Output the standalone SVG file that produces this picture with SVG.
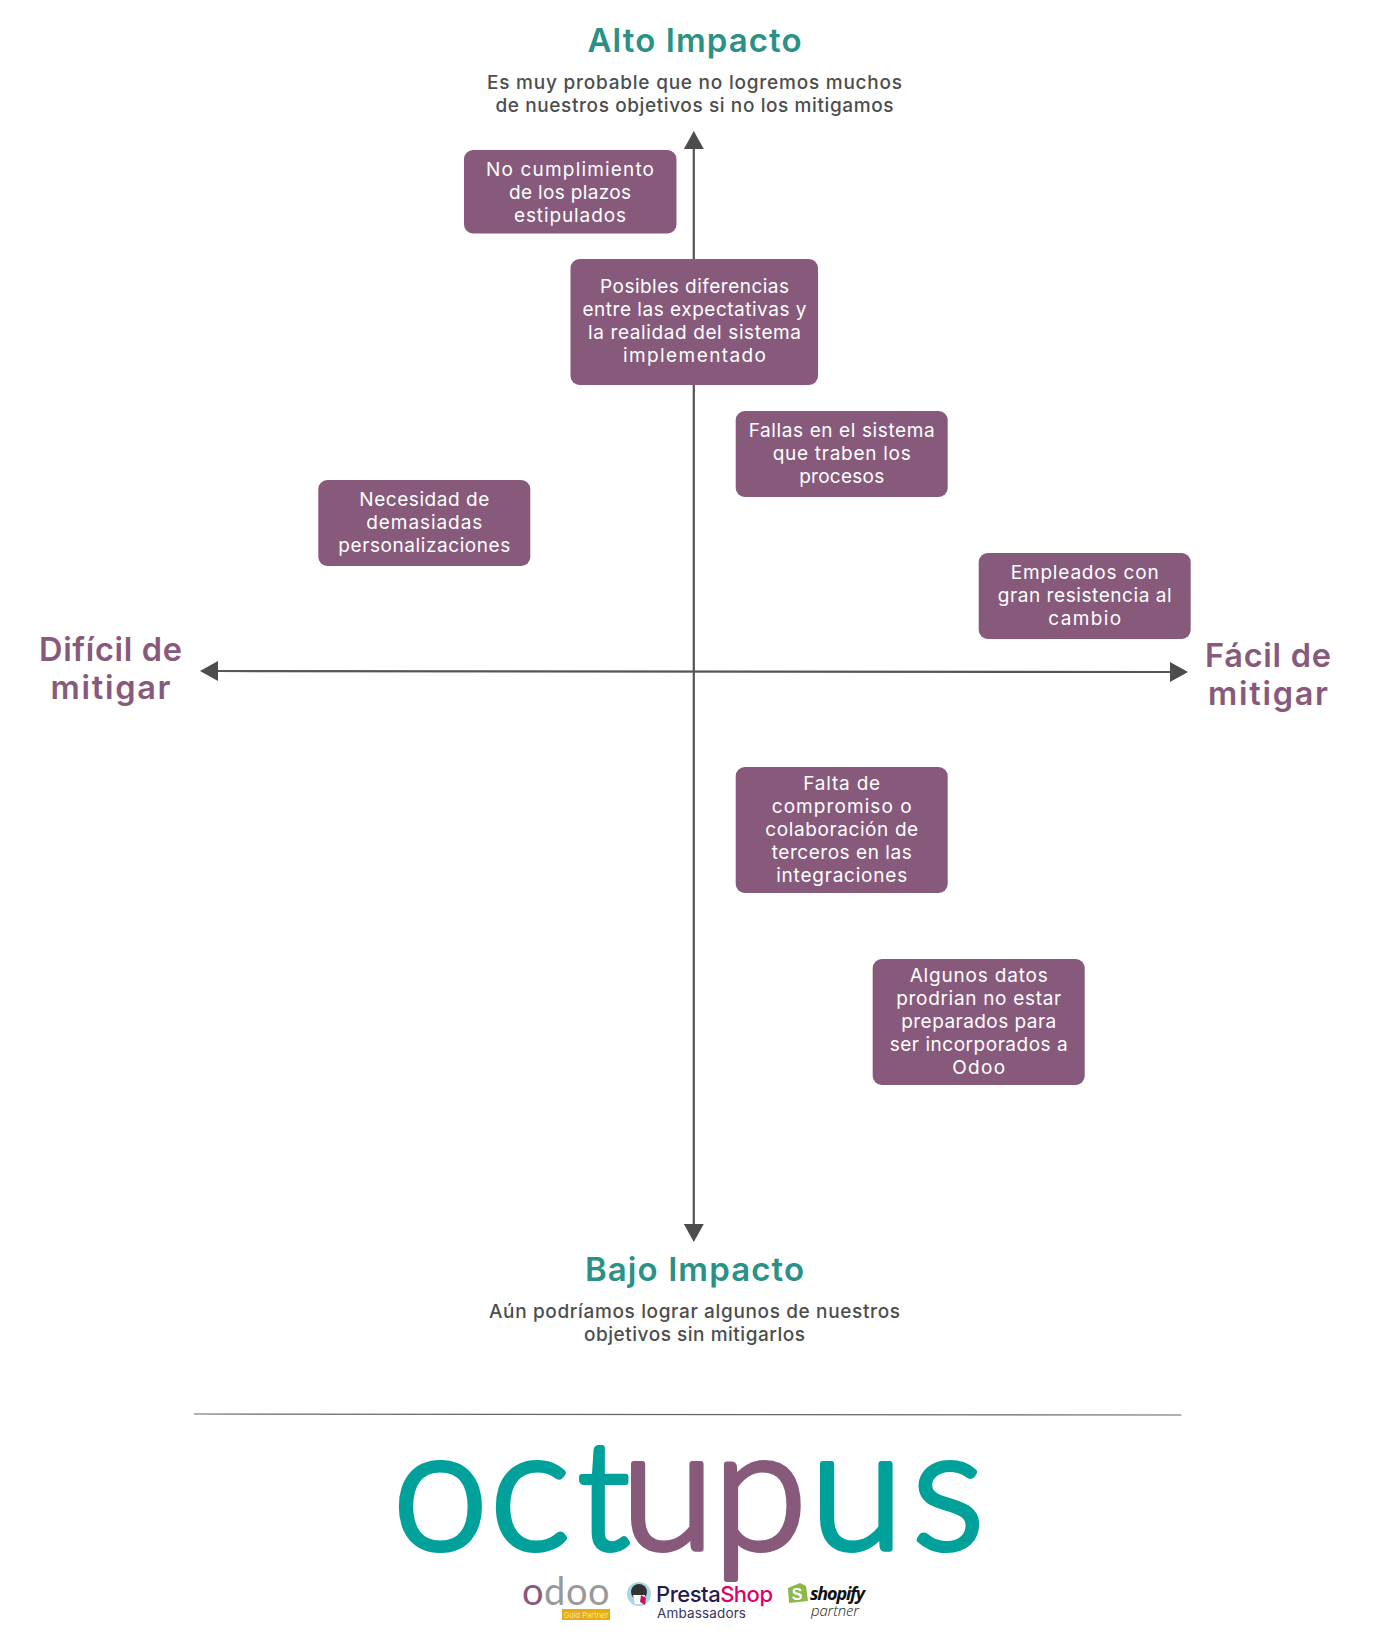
<svg xmlns="http://www.w3.org/2000/svg" width="1374" height="1650" viewBox="0 0 1374 1650">
<style>
text{font-family:"Inter","Open Sans","Liberation Sans",sans-serif;text-anchor:middle}
.box{fill:#875a7b}
.b{font-size:19px;fill:#fff;font-weight:400}
.h{font-size:33px;font-weight:600;fill:#2a9187}
.s{font-size:19px;fill:#4d4d4d;font-weight:500}
.m{font-size:32.5px;font-weight:600;fill:#875a7b}
.ax{stroke:#555;stroke-width:2.2;fill:none;marker-start:url(#tip);marker-end:url(#tip)}
.lg{font-family:Lato,"Open Sans",sans-serif;font-weight:300;text-anchor:start;stroke-linejoin:round;stroke-width:6}
.te{fill:#00a19a;stroke:#00a19a}
.pu{fill:#875a7b;stroke:#875a7b}
</style>
<defs>
<marker id="tip" markerUnits="userSpaceOnUse" markerWidth="18" markerHeight="20" refX="0" refY="10" orient="auto-start-reverse"><path d="M0 0L18 10L0 20Z" fill="#4d4d4d"/></marker>
</defs>
<rect width="1374" height="1650" fill="#fff"/>
<g id="connectors">
<path class="ax" d="M693.8 1224V149"/>
<path class="ax" d="M1170 672L218 671"/>
<path d="M194 1414L1181.5 1415" stroke="#666" stroke-width="1.2" fill="none"/>
</g>
<g id="alto"><text class="h" x="694.5" y="52" textLength="214">Alto Impacto</text>
<text class="s" x="694.5" y="89" textLength="415">Es muy probable que no logremos muchos</text>
<text class="s" x="694.5" y="112" textLength="398">de nuestros objetivos si no los mitigamos</text></g>
<g id="bajo"><text class="h" x="694.5" y="1281" textLength="219">Bajo Impacto</text>
<text class="s" x="694.5" y="1318" textLength="411">Aún podríamos lograr algunos de nuestros</text>
<text class="s" x="694.5" y="1341" textLength="221">objetivos sin mitigarlos</text></g>
<g id="dificil"><text class="m" x="110.5" y="661" textLength="143">Difícil de</text><text class="m" x="110.5" y="699" textLength="120">mitigar</text></g>
<g id="facil"><text class="m" x="1268" y="667" textLength="126">Fácil de</text><text class="m" x="1268" y="705" textLength="120">mitigar</text></g>
<g id="n1"><rect class="box" x="464" y="150" width="212.5" height="83.5" rx="9"/>
<text class="b" x="570" y="176" textLength="168">No cumplimiento</text><text class="b" x="570" y="199" textLength="122">de los plazos</text><text class="b" x="570" y="222" textLength="112">estipulados</text></g>
<g id="n2"><rect class="box" x="570.5" y="259" width="247.5" height="126" rx="9"/>
<text class="b" x="694.5" y="292.5" textLength="189">Posibles diferencias</text><text class="b" x="694.5" y="315.5" textLength="224">entre las expectativas y</text><text class="b" x="694.5" y="338.5" textLength="213">la realidad del sistema</text><text class="b" x="694.5" y="361.5" textLength="143">implementado</text></g>
<g id="n3"><rect class="box" x="735.7" y="411" width="212" height="86" rx="9"/>
<text class="b" x="841.7" y="437" textLength="186">Fallas en el sistema</text><text class="b" x="841.7" y="460" textLength="138">que traben los</text><text class="b" x="841.7" y="483" textLength="85">procesos</text></g>
<g id="n4"><rect class="box" x="318.3" y="480" width="212" height="86" rx="9"/>
<text class="b" x="424.3" y="506" textLength="130">Necesidad de</text><text class="b" x="424.3" y="529" textLength="116">demasiadas</text><text class="b" x="424.3" y="552" textLength="172">personalizaciones</text></g>
<g id="n5"><rect class="box" x="978.7" y="553" width="212" height="86" rx="9"/>
<text class="b" x="1084.7" y="578.5" textLength="148">Empleados con</text><text class="b" x="1084.7" y="601.5" textLength="174">gran resistencia al</text><text class="b" x="1084.7" y="624.5" textLength="73">cambio</text></g>
<g id="n6"><rect class="box" x="735.7" y="767" width="212" height="126" rx="9"/>
<text class="b" x="841.7" y="789.5" textLength="77">Falta de</text><text class="b" x="841.7" y="812.5" textLength="140">compromiso o</text><text class="b" x="841.7" y="835.5" textLength="153">colaboración de</text><text class="b" x="841.7" y="858.5" textLength="140">terceros en las</text><text class="b" x="841.7" y="881.5" textLength="131">integraciones</text></g>
<g id="n7"><rect class="box" x="872.7" y="959" width="212" height="126" rx="9"/>
<text class="b" x="978.7" y="981.5" textLength="138">Algunos datos</text><text class="b" x="978.7" y="1004.5" textLength="165">prodrian no estar</text><text class="b" x="978.7" y="1027.5" textLength="155">preparados para</text><text class="b" x="978.7" y="1050.5" textLength="178">ser incorporados a</text><text class="b" x="978.7" y="1073.5" textLength="53">Odoo</text></g>
<g id="logo">
<text class="lg te" y="1549" x="393 490" style="font-size:170px">oc</text>
<text class="lg te" y="1549" x="578" style="font-size:150px">t</text>
<text class="lg pu" y="1549" x="621 713" style="font-size:170px">up</text>
<text class="lg te" y="1549" x="810 912" style="font-size:170px">us</text>
</g>
<g id="partners">
<text y="1605" x="522 544 566 588" style="font-size:38px;font-weight:400;text-anchor:start;font-family:Lato,sans-serif" fill="#999"><tspan fill="#875a7b">o</tspan>doo</text>
<rect x="562" y="1609" width="48" height="11" fill="#e6ac12"/>
<text x="586" y="1617.5" style="font-size:7.5px" fill="#f6e5b4">Gold Partner</text>
<circle cx="639" cy="1594" r="12" fill="#a9d6e8"/><circle cx="639" cy="1592" r="8" fill="#333"/><path d="M633 1595h12l-2 9h-8Z" fill="#fff"/><path d="M641 1595l5 3-1 7-5-3Z" fill="#c2185b"/>
<text x="656" y="1602" textLength="117" style="font-size:22px;font-weight:500;text-anchor:start" fill="#251b4d">Presta<tspan fill="#df0067">Shop</tspan></text>
<text x="657" y="1618" textLength="89" style="font-size:13.5px;text-anchor:start" fill="#3a3560">Ambassadors</text>
<path d="M788 1588l12-5 6 3 2 15-19 2Z" fill="#8db848"/><text x="797" y="1600" style="font-size:16px;font-weight:700;font-family:'Liberation Sans',sans-serif" fill="#fff">S</text>
<text x="810" y="1600" textLength="55" style="font-size:18px;font-weight:700;font-style:italic;text-anchor:start;font-family:'Open Sans',sans-serif" fill="#111">shopify</text>
<text x="811" y="1616" textLength="48" style="font-size:15px;font-weight:300;font-style:italic;text-anchor:start;font-family:'Open Sans',sans-serif" fill="#222">partner</text>
</g>
</svg>
